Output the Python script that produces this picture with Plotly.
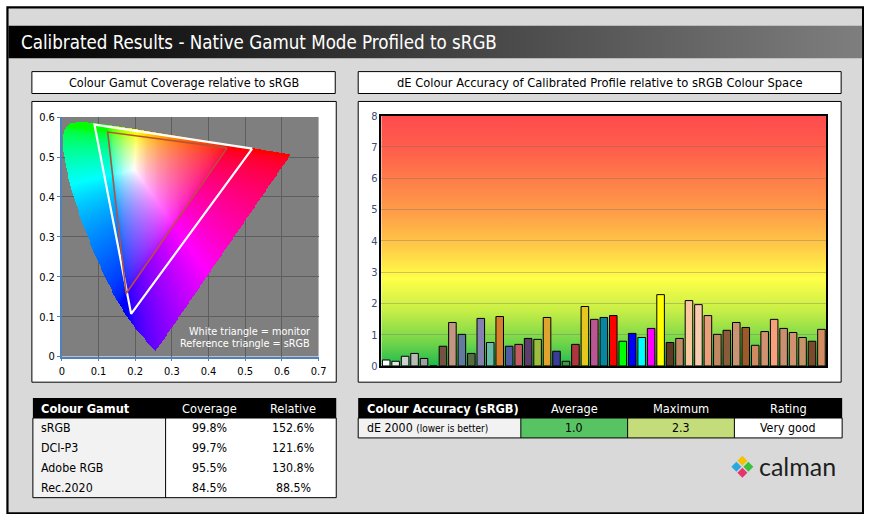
import numpy as np
import plotly.graph_objects as go

W, H = 872, 521
FONT = "DejaVu Sans Condensed, DejaVu Sans, sans-serif"
# mapping of the figure onto the captured picture (measured from test renders)
X0, SX = 1.05, 0.9895
Y0, SY = 5.1, 0.9795

# ---------------- data ----------------
title_text = "Calibrated Results - Native Gamut Mode Profiled to sRGB"
left_title = "Colour Gamut Coverage relative to sRGB"
right_title = "dE Colour Accuracy of Calibrated Profile relative to sRGB Colour Space"

# CIE 1931 spectral locus (x, y), 380-700 nm
locus_x = [0.1741, 0.1740, 0.1738, 0.1736, 0.1733, 0.1730, 0.1726, 0.1721, 0.1714, 0.1703,
           0.1689, 0.1669, 0.1644, 0.1611, 0.1566, 0.1510, 0.1440, 0.1355, 0.1241, 0.1096,
           0.0913, 0.0687, 0.0454, 0.0235, 0.0082, 0.0039, 0.0139, 0.0389, 0.0743, 0.1142,
           0.1547, 0.1929, 0.2296, 0.2658, 0.3016, 0.3373, 0.3731, 0.4087, 0.4441, 0.4788,
           0.5125, 0.5448, 0.5752, 0.6029, 0.6270, 0.6482, 0.6658, 0.6801, 0.6915, 0.7006,
           0.7079, 0.7140, 0.7190, 0.7230, 0.7260, 0.7283, 0.7300, 0.7311, 0.7320, 0.7334,
           0.7347]
locus_y = [0.0050, 0.0050, 0.0049, 0.0049, 0.0048, 0.0048, 0.0048, 0.0048, 0.0051, 0.0058,
           0.0069, 0.0086, 0.0109, 0.0138, 0.0177, 0.0227, 0.0297, 0.0399, 0.0578, 0.0868,
           0.1327, 0.2007, 0.2950, 0.4127, 0.5384, 0.6548, 0.7502, 0.8120, 0.8338, 0.8262,
           0.8059, 0.7816, 0.7543, 0.7243, 0.6923, 0.6589, 0.6245, 0.5896, 0.5547, 0.5202,
           0.4866, 0.4544, 0.4242, 0.3965, 0.3725, 0.3514, 0.3340, 0.3197, 0.3083, 0.2993,
           0.2920, 0.2859, 0.2809, 0.2770, 0.2740, 0.2717, 0.2700, 0.2689, 0.2680, 0.2666,
           0.2653]

monitor_u = [0.519, 0.089, 0.189]
monitor_v = [0.521, 0.581, 0.107]
srgb_u = [0.4507, 0.1250, 0.1754]
srgb_v = [0.5229, 0.5625, 0.1579]

de_values = [0.19, 0.15, 0.31, 0.40, 0.24, 0.0,
             0.63, 1.39, 1.01, 0.40, 1.52, 0.75, 1.58, 0.63, 0.69, 0.88, 0.85, 1.55,
             0.47, 0.15, 0.69, 1.90, 1.49, 1.55,
             1.61, 0.79, 1.04, 0.91, 1.20, 2.28,
             0.75, 0.88, 2.09, 1.96, 1.61, 1.01, 1.14, 1.39, 1.23, 0.66, 1.10, 1.49,
             1.20, 1.07, 0.91, 0.79, 1.17]
de_colors = ['#ffffff', '#e6e6e6', '#d0d0d0', '#bababa', '#a0a0a0', '#000000',
             '#735244', '#c29682', '#627a9d', '#576c43', '#8580b1', '#67bdaa',
             '#d67e2c', '#505ba6', '#c15a63', '#5e3c6c', '#9dbc40', '#e0a32e',
             '#383d96', '#469449', '#af363c', '#e7c71f', '#bb5695', '#0885a1',
             '#ff0000', '#00ff00', '#0000ff', '#00ffff', '#ff00ff', '#ffff00',
             '#5c3a26', '#c08a68', '#f9c8a0', '#f8cbb0', '#e8a07a', '#c08862',
             '#8a5a3a', '#c89474', '#9a5a2a', '#d08a62', '#d29272', '#f8a07e',
             '#c89070', '#d29272', '#c8926a', '#7a4a2a', '#d48c62']
de_ticks = [0, 1, 2, 3, 4, 5, 6, 7, 8]

gamut_names = ["sRGB", "DCI-P3", "Adobe RGB", "Rec.2020"]
gamut_coverage = ["99.8%", "99.7%", "95.5%", "84.5%"]
gamut_relative = ["152.6%", "121.6%", "130.8%", "88.5%"]

acc_headers = ["Colour Accuracy (sRGB)", "Average", "Maximum", "Rating"]
acc_label = "dE 2000"
acc_note = "(lower is better)"
acc_average = "1.0"
acc_maximum = "2.3"
acc_rating = "Very good"

# ---------------- helpers ----------------
def px(x):
    return (x - X0) / (W * SX)

def py(y):
    return 1 - (y - Y0) / (H * SY)

shapes = []
annotations = []

def rect(x0, y0, x1, y1, fill, line=None, lw=1):
    shapes.append(dict(type="rect", xref="x", yref="y", x0=x0, y0=y0, x1=x1, y1=y1,
                       fillcolor=fill, layer="below",
                       line=dict(color=line if line else "rgba(0,0,0,0)", width=lw if line else 0)))

def vline(x, y0, y1):
    shapes.append(dict(type="line", xref="x", yref="y", x0=x, x1=x, y0=y0, y1=y1,
                       line=dict(color="black", width=1), layer="below"))

def text(x, y, s, size=12, color="black", xanchor="center", bold=False, family=FONT):
    if bold:
        s = "<b>" + s + "</b>"
    annotations.append(dict(xref="x", yref="y", x=x, y=y, text=s, showarrow=False,
                            xanchor=xanchor, yanchor="middle",
                            font=dict(family=family, size=size, color=color)))

# ---------------- chromaticity image ----------------
lx = np.array(locus_x); ly = np.array(locus_y)
den = -2 * lx + 12 * ly + 3
lu = 4 * lx / den
lv = 9 * ly / den

step = 0.0025
us = np.arange(0, 0.7, step) + step / 2
vs = np.arange(0, 0.6, step) + step / 2
U, V = np.meshgrid(us, vs)

def inside_poly(pxs, pys, xs, ys):
    res = np.zeros(pxs.shape, bool)
    n = len(xs)
    j = n - 1
    for i in range(n):
        xi, yi, xj, yj = xs[i], ys[i], xs[j], ys[j]
        if yi != yj:
            cond = ((yi > pys) != (yj > pys)) & (pxs < (xj - xi) * (pys - yi) / (yj - yi) + xi)
            res ^= cond
        j = i
    return res

inside = inside_poly(U, V, lu, lv)
d = 6 * U - 16 * V + 12
cx = 9 * U / d
cy = 4 * V / d
Xc = cx / cy
Zc = (1 - cx - cy) / cy
r = 3.2406 * Xc - 1.5372 - 0.4986 * Zc
g = -0.9689 * Xc + 1.8758 + 0.0415 * Zc
b = 0.0557 * Xc - 0.2040 + 1.0570 * Zc
rgb = np.clip(np.stack([r, g, b], axis=-1), 0, None)
mx = rgb.max(axis=-1, keepdims=True)
mx[mx == 0] = 1
rgb = (rgb / mx) ** 0.5
img = np.concatenate([np.round(rgb * 255), inside[..., None].astype(float)], axis=-1)
img[~inside] = 0
zimg = img.astype(int).tolist()

# ---------------- background / frame (pixel layer) ----------------
rect(5.5, 6.5, 863, 514.8, "#d9d9d9", "black", 2.2)
rect(30, 71, 334, 93, "white", "black", 1)
rect(357, 71, 841, 93, "white", "black", 1)
rect(30, 101, 335, 383, "white", "black", 1)
rect(357, 101, 841, 383, "white", "black", 1)
rect(60, 116.7, 317.3, 357.3, "#7f7f7f")

# left table
rect(31, 399, 335, 419, "black")
rect(31, 419, 164, 499, "#f2f2f2")
rect(164, 419, 335, 499, "white")
rect(31, 419, 335, 499, "rgba(0,0,0,0)", "black", 1)
vline(164, 419, 499)
# right table
rect(357, 399, 842, 419, "black")
rect(357, 419, 520, 439, "#f2f2f2")
rect(520, 419, 627, 439, "#57c363")
rect(627, 419, 734, 439, "#c4dd7a")
rect(734, 419, 842, 439, "white")
rect(357, 419, 842, 439, "rgba(0,0,0,0)", "black", 1)
for xs_ in (520, 627, 734):
    vline(xs_, 419, 439)

# calman logo icon
cxl, cyl = 742, 468
for dx_, dy_, col in [(0, -6, "#f5c200"), (-6, 0, "#29a9e1"), (6, 0, "#38c23c"), (0, 6, "#e8336d")]:
    x0_, y0_ = cxl + dx_, cyl + dy_
    s_ = 5
    shapes.append(dict(type="path", xref="x", yref="y", layer="below",
                       path=f"M {x0_} {y0_ - s_} L {x0_ + s_} {y0_} L {x0_} {y0_ + s_} L {x0_ - s_} {y0_} Z",
                       fillcolor=col, line=dict(width=0)))

# ---------------- texts ----------------
text(17, 41.5, title_text, size=18.6, color="white", xanchor="left")
text(182, 82, left_title, size=12.5)
text(599, 82, right_title, size=12.8)
text(311, 332, "White triangle = monitor", size=10.8, color="white", xanchor="right")
text(311, 344, "Reference triangle = sRGB", size=10.8, color="white", xanchor="right")

text(37, 409.5, "Colour Gamut", size=12.7, color="white", xanchor="left", bold=True)
text(208, 409.5, "Coverage", size=12.7, color="white")
text(292, 409.5, "Relative", size=12.7, color="white")
for i, (n_, c_, r_) in enumerate(zip(gamut_names, gamut_coverage, gamut_relative)):
    yy = 429.3 + 20 * i
    text(37, yy, n_, size=12.3, xanchor="left")
    text(208, yy, c_, size=12.3)
    text(292, yy, r_, size=12.3)

text(364, 409.5, acc_headers[0], size=12.7, color="white", xanchor="left", bold=True)
text(573.5, 409.5, acc_headers[1], size=12.7, color="white")
text(680.5, 409.5, acc_headers[2], size=12.7, color="white")
text(788, 409.5, acc_headers[3], size=12.7, color="white")
text(364, 429.5, acc_label + " <span style='font-size:10px'>" + acc_note + "</span>", size=12.3, xanchor="left")
text(573.5, 429.5, acc_average, size=12.3)
text(680.5, 429.5, acc_maximum, size=12.3)
text(788, 429.5, acc_rating, size=12.3)

text(757, 467, "calman", size=25, color="#1e1e1e", xanchor="left", family="Lato, Inter, sans-serif")

# ---------------- traces ----------------
traces = []
# title bar gradient
traces.append(go.Scatter(x=[6.5, 862, 862, 6.5, 6.5], y=[25, 25, 57.5, 57.5, 25], mode="lines",
                         line=dict(width=0), fill="toself", hoverinfo="skip",
                         fillgradient=dict(type="horizontal", start=6.5, stop=862,
                                           colorscale=[[0, "#000000"], [1, "#808080"]]),
                         xaxis="x", yaxis="y"))
# dE chart background gradient
grad = [[0, "#ff4d4d"], [0.125, "#ff5f4b"], [0.25, "#ff8049"], [0.375, "#ffa048"],
        [0.5, "#ffcb47"], [0.625, "#ffff48"], [0.75, "#c6ee46"], [0.875, "#6fd44a"], [1, "#00b050"]]
traces.append(go.Scatter(x=[380.3, 826, 826, 380.3, 380.3], y=[115.3, 115.3, 366.7, 366.7, 115.3],
                         mode="lines", line=dict(width=0), fill="toself", hoverinfo="skip",
                         fillgradient=dict(type="vertical", start=115.3, stop=366.7, colorscale=grad),
                         xaxis="x", yaxis="y"))

traces.append(go.Image(z=zimg, colormodel="rgba", x0=step / 2, y0=step / 2, dx=step, dy=step,
                       xaxis="x2", yaxis="y2", hoverinfo="skip"))
traces.append(go.Scatter(x=monitor_u + [monitor_u[0]], y=monitor_v + [monitor_v[0]], mode="lines",
                         line=dict(color="white", width=2.2), xaxis="x2", yaxis="y2", hoverinfo="skip"))
traces.append(go.Scatter(x=srgb_u + [srgb_u[0]], y=srgb_v + [srgb_v[0]], mode="lines",
                         line=dict(color="#b9503f", width=1.6), xaxis="x2", yaxis="y2", hoverinfo="skip"))

traces.append(go.Bar(x=list(range(len(de_values))), y=de_values, width=0.8,
                     marker=dict(color=de_colors, line=dict(color="black", width=1)),
                     xaxis="x3", yaxis="y3", hoverinfo="skip"))

fig = go.Figure(traces)
fig.update_layout(
    width=W, height=H, margin=dict(l=0, r=0, t=0, b=0),
    paper_bgcolor="white", plot_bgcolor="rgba(0,0,0,0)", showlegend=False,
    font=dict(family=FONT), hovermode=False,
    shapes=shapes, annotations=annotations,
    xaxis=dict(domain=[0, 1], range=[X0, X0 + W * SX], visible=False, fixedrange=True),
    yaxis=dict(domain=[0, 1], range=[Y0 + H * SY, Y0], visible=False, fixedrange=True),
    xaxis2=dict(domain=[px(60), px(317.3)], range=[0, 0.7], autorange=False, dtick=0.1,
                showgrid=True, gridcolor="#5e5e5e", gridwidth=1, zeroline=False,
                showline=True, linecolor="#4f81bd", linewidth=1.5, ticks="outside",
                tickcolor="#4f81bd", ticklen=3, tickfont=dict(size=11, color="black"),
                anchor="y2", constrain="range"),
    yaxis2=dict(domain=[py(357.3), py(116.7)], range=[0, 0.6], autorange=False, dtick=0.1,
                showgrid=True, gridcolor="#5e5e5e", gridwidth=1, zeroline=False,
                showline=True, linecolor="#4f81bd", linewidth=1.5, ticks="outside",
                tickcolor="#4f81bd", ticklen=3, tickfont=dict(size=11, color="black"),
                anchor="x2", scaleanchor=False, constrain="range"),
    xaxis3=dict(domain=[px(380.3), px(826)], range=[-0.5, len(de_values) - 0.5],
                showticklabels=False, showgrid=False, zeroline=False, ticks="",
                showline=True, mirror=True, linecolor="black", linewidth=1.5, anchor="y3"),
    yaxis3=dict(domain=[py(366.7), py(115.3)], range=[0, 8], tickvals=de_ticks,
                showgrid=True, gridcolor="rgba(110,110,110,0.35)", gridwidth=1, zeroline=False,
                showline=True, mirror=True, linecolor="black", linewidth=1.5, ticks="",
                tickfont=dict(size=11, color="#3c4a78"), anchor="x3"),
)
post = ("document.documentElement.style.margin='0';document.documentElement.style.overflow='hidden';"
        "document.body.style.margin='0';document.body.style.overflow='hidden';")
fig.write_html("out.html", config={"displayModeBar": False}, post_script=post)
